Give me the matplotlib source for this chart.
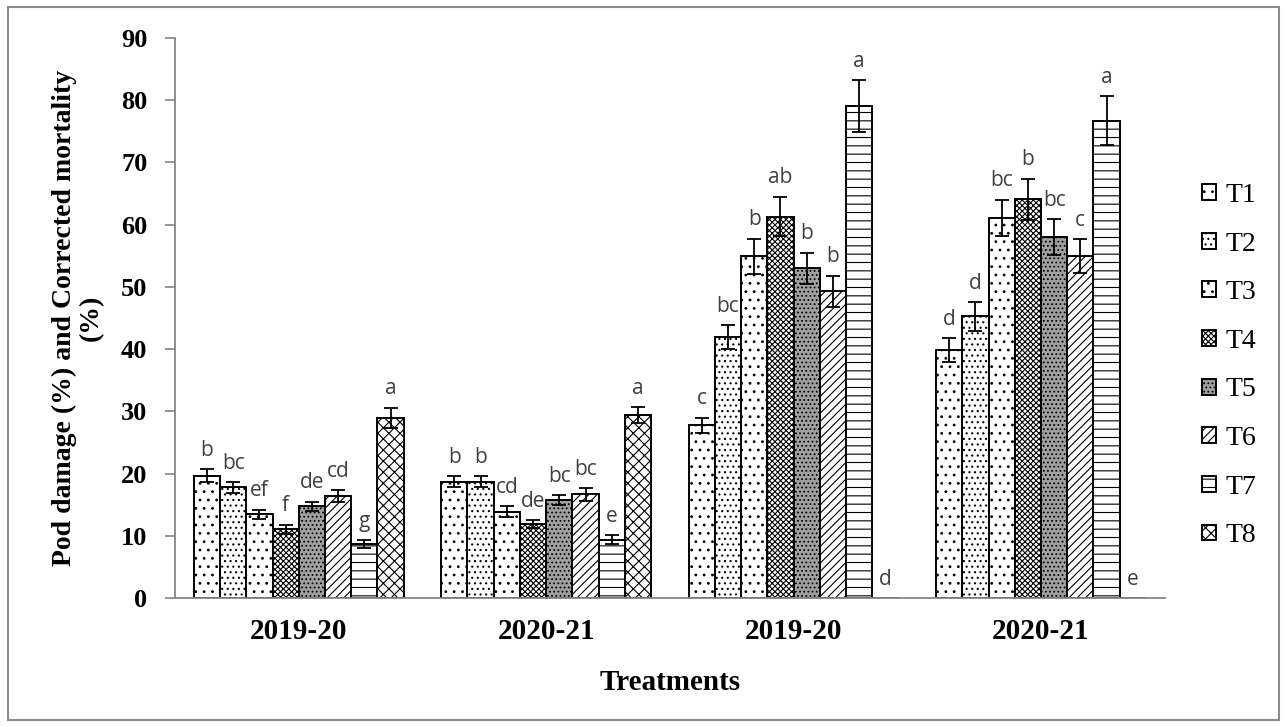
import numpy as np
import matplotlib.pyplot as plt
from matplotlib.patches import Rectangle

# season groups on the x axis (pod damage, then corrected mortality)
seasons = ['2019-20', '2020-21', '2019-20', '2020-21']
treatments = ['T1', 'T2', 'T3', 'T4', 'T5', 'T6', 'T7', 'T8']

# mean values per treatment, one entry per season group
means = [
    [19.7, 18.7, 27.8, 39.9],
    [17.8, 18.7, 42.0, 45.3],
    [13.5, 13.9, 54.9, 61.1],
    [11.1, 11.9, 61.3, 64.1],
    [14.8, 15.8, 53.0, 58.0],
    [16.4, 16.7, 49.3, 55.0],
    [8.7, 9.4, 79.0, 76.7],
    [29.0, 29.4, 0.0, 0.0],
]

# standard errors
errors = [
    [1.0, 0.9, 1.2, 1.9],
    [0.9, 0.9, 1.9, 2.3],
    [0.75, 0.9, 2.85, 2.9],
    [0.75, 0.65, 3.2, 3.3],
    [0.7, 0.8, 2.5, 2.9],
    [1.0, 1.0, 2.5, 2.7],
    [0.65, 0.7, 4.2, 3.9],
    [1.6, 1.25, 0.0, 0.0],
]

# DMRT letters
letters = [
    ['b', 'b', 'c', 'd'],
    ['bc', 'b', 'bc', 'd'],
    ['ef', 'cd', 'b', 'bc'],
    ['f', 'de', 'ab', 'b'],
    ['de', 'bc', 'b', 'bc'],
    ['cd', 'bc', 'b', 'c'],
    ['g', 'e', 'a', 'a'],
    ['a', 'a', 'd', 'e'],
]

hatches = ['..', '...', '..', 'xxxxxx', '....', '////', '--', 'xxx']
faces = ['white', 'white', 'white', 'white', '#a0a0a0', 'white', 'white', 'white']

plt.rcParams['hatch.linewidth'] = 0.8
serif = 'Liberation Serif'

fig = plt.figure(figsize=(12.87, 7.27), dpi=100)
ax = fig.add_axes([0.136, 0.177, 0.769, 0.771])

x = np.arange(len(seasons))
w = 0.106
for i, t in enumerate(treatments):
    pos = x + (i - 3.5) * w
    ax.bar(pos, means[i], w, color=faces[i], edgecolor='black', hatch=hatches[i],
           linewidth=1.4, label=t, zorder=2)
    m = np.array(means[i])
    e = np.array(errors[i])
    has = e > 0
    ax.errorbar(pos[has], m[has], yerr=e[has], fmt='none', ecolor='black',
                elinewidth=1.3, capsize=5, capthick=1.3, zorder=3)
    for p, v, s, lab in zip(pos, m, e, letters[i]):
        ax.annotate(lab, (p, v + s), xytext=(0, 6), textcoords='offset points',
                    ha='center', va='bottom', fontsize=15, family='Open Sans',
                    color='#404040')

ax.set_xlim(-0.5, 3.5)
ax.set_ylim(0, 90)
ax.set_yticks(range(0, 91, 10))
ax.set_xticks(x)
ax.set_xticklabels(seasons, fontsize=21, fontweight='bold', family=serif)
for lab in ax.get_yticklabels():
    lab.set_fontsize(19)
    lab.set_fontweight('bold')
    lab.set_family(serif)
ax.tick_params(axis='x', length=0, pad=14)
ax.tick_params(axis='y', length=7, width=1.2, color='#868686', pad=13)

for side in ['top', 'right']:
    ax.spines[side].set_visible(False)
for side in ['left', 'bottom']:
    ax.spines[side].set_color('#868686')
    ax.spines[side].set_linewidth(1.3)

fig.text(78 / 1287, 1 - 318 / 727, 'Pod damage (%) and Corrected mortality\n(%)',
         rotation=90, ha='center', va='center', multialignment='center',
         fontsize=20, fontweight='bold', family=serif, linespacing=1.1)
fig.text(670 / 1287, 1 - 682 / 727, 'Treatments', ha='center', va='center',
         fontsize=21, fontweight='bold', family=serif)

fig.legend(loc='center left', bbox_to_anchor=(0.934, 0.497), frameon=False,
           prop={'family': serif, 'size': 20}, handlelength=0.5, handleheight=0.5,
           labelspacing=0.85, handletextpad=0.35, borderpad=0, borderaxespad=0)

fig.patches.append(Rectangle((0.006, 0.01), 0.988, 0.98, transform=fig.transFigure,
                             fill=False, edgecolor='#8c8c8c', linewidth=1.5))

fig.savefig('out.png', dpi=100)
